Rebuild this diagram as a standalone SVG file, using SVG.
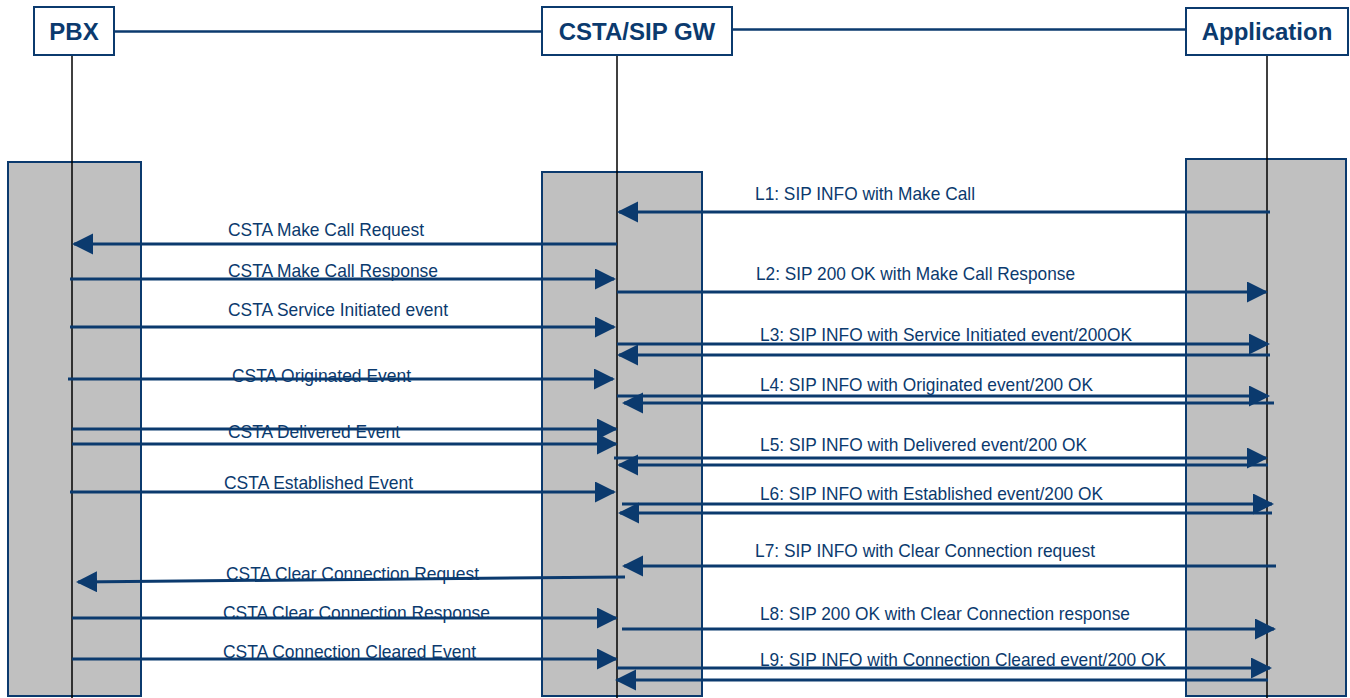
<svg xmlns="http://www.w3.org/2000/svg" width="1350" height="698" viewBox="0 0 1350 698">
<style>
.hdr{fill:#fff;stroke:#0b3a6e;stroke-width:2}
.htxt{font-family:"Liberation Sans",Arial,sans-serif;font-weight:bold;font-size:24px;fill:#0b3a6e;text-anchor:middle}
.act{fill:#c0c0c0;stroke:#0b3a6e;stroke-width:2}
.life{stroke:#000;stroke-width:1.5;fill:none}
.top{stroke:#0b3a6e;stroke-width:2.5;fill:none}
.msg{stroke:#0b3a6e;stroke-width:3;fill:none;marker-end:url(#ah)}
.lbl{font-family:"Liberation Sans",Arial,sans-serif;font-size:18.5px;fill:#0b3a6e}
</style>
<defs>
<marker id="ah" markerUnits="userSpaceOnUse" markerWidth="22" markerHeight="22" refX="19" refY="10.5" orient="auto">
<path d="M0,0 L21,10.5 L0,21 z" fill="#0b3a6e"/>
</marker>
</defs>
<rect width="1350" height="698" fill="#fff"/>
<g id="activations">
<rect class="act" x="8" y="162" width="133" height="534"/>
<rect class="act" x="542" y="172" width="160" height="524"/>
<rect class="act" x="1186" y="159" width="160" height="537"/>
</g>
<g id="lifelines">
<line class="life" x1="72" y1="56" x2="72" y2="698"/>
<line class="life" x1="617" y1="56" x2="617" y2="698"/>
<line class="life" x1="1267" y1="54" x2="1267" y2="698"/>
<line class="top" x1="114" y1="31.5" x2="542" y2="31.5"/>
<line class="top" x1="732" y1="29.5" x2="1186" y2="29.5"/>
</g>
<g id="node-pbx">
<rect class="hdr" x="34" y="7" width="80" height="48"/>
<text class="htxt" x="74" y="39.5">PBX</text>
</g>
<g id="node-gw">
<rect class="hdr" x="542" y="7" width="190" height="48"/>
<text class="htxt" x="637" y="39.5">CSTA/SIP GW</text>
</g>
<g id="node-app">
<rect class="hdr" x="1186" y="8" width="162" height="47"/>
<text class="htxt" x="1267" y="39.5">Application</text>
</g>
<g id="connectors">
<line class="msg" x1="1270" y1="212" x2="619" y2="212"/>
<line class="msg" x1="617" y1="244" x2="74" y2="244"/>
<line class="msg" x1="70" y1="279" x2="614" y2="279"/>
<line class="msg" x1="617" y1="292" x2="1266" y2="292"/>
<line class="msg" x1="70" y1="327" x2="614" y2="327"/>
<line class="msg" x1="617" y1="344" x2="1268" y2="344"/>
<line class="msg" x1="1270" y1="355" x2="619" y2="355"/>
<line class="msg" x1="68" y1="379" x2="613" y2="379"/>
<line class="msg" x1="617" y1="396" x2="1268" y2="396"/>
<line class="msg" x1="1274" y1="403" x2="624" y2="403"/>
<line class="msg" x1="72" y1="429" x2="616" y2="429"/>
<line class="msg" x1="72" y1="444" x2="616" y2="444"/>
<line class="msg" x1="614" y1="458" x2="1266" y2="458"/>
<line class="msg" x1="1268" y1="465" x2="619" y2="465"/>
<line class="msg" x1="70" y1="492" x2="614" y2="492"/>
<line class="msg" x1="622" y1="504" x2="1272" y2="504"/>
<line class="msg" x1="1272" y1="513" x2="620" y2="513"/>
<line class="msg" x1="1276" y1="566" x2="624" y2="566"/>
<line class="msg" x1="625" y1="577" x2="78" y2="582"/>
<line class="msg" x1="72" y1="618" x2="616" y2="618"/>
<line class="msg" x1="622" y1="629" x2="1274" y2="629"/>
<line class="msg" x1="72" y1="659" x2="616" y2="659"/>
<line class="msg" x1="617" y1="668" x2="1270" y2="668"/>
<line class="msg" x1="1268" y1="680" x2="617" y2="680"/>
</g>
<g id="labels">
<text class="lbl" x="755" y="200" textLength="220" lengthAdjust="spacingAndGlyphs">L1: SIP INFO with Make Call</text>
<text class="lbl" x="228" y="235.5" textLength="196" lengthAdjust="spacingAndGlyphs">CSTA Make Call Request</text>
<text class="lbl" x="228" y="277" textLength="210" lengthAdjust="spacingAndGlyphs">CSTA Make Call Response</text>
<text class="lbl" x="756" y="280" textLength="319" lengthAdjust="spacingAndGlyphs">L2: SIP 200 OK with Make Call Response</text>
<text class="lbl" x="228" y="316" textLength="220" lengthAdjust="spacingAndGlyphs">CSTA Service Initiated event</text>
<text class="lbl" x="760" y="341" textLength="372" lengthAdjust="spacingAndGlyphs">L3: SIP INFO with Service Initiated event/200OK</text>
<text class="lbl" x="232" y="382" textLength="179" lengthAdjust="spacingAndGlyphs">CSTA Originated Event</text>
<text class="lbl" x="760" y="391" textLength="333" lengthAdjust="spacingAndGlyphs">L4: SIP INFO with Originated event/200 OK</text>
<text class="lbl" x="228" y="438" textLength="172" lengthAdjust="spacingAndGlyphs">CSTA Delivered Event</text>
<text class="lbl" x="760" y="451" textLength="327" lengthAdjust="spacingAndGlyphs">L5: SIP INFO with Delivered event/200 OK</text>
<text class="lbl" x="224" y="489" textLength="189" lengthAdjust="spacingAndGlyphs">CSTA Established Event</text>
<text class="lbl" x="760" y="500" textLength="343" lengthAdjust="spacingAndGlyphs">L6: SIP INFO with Established event/200 OK</text>
<text class="lbl" x="755" y="557" textLength="340" lengthAdjust="spacingAndGlyphs">L7: SIP INFO with Clear Connection request</text>
<text class="lbl" x="226" y="580" textLength="253" lengthAdjust="spacingAndGlyphs">CSTA Clear Connection Request</text>
<text class="lbl" x="223" y="619" textLength="267" lengthAdjust="spacingAndGlyphs">CSTA Clear Connection Response</text>
<text class="lbl" x="760" y="620" textLength="370" lengthAdjust="spacingAndGlyphs">L8: SIP 200 OK with Clear Connection response</text>
<text class="lbl" x="223" y="658" textLength="253" lengthAdjust="spacingAndGlyphs">CSTA Connection Cleared Event</text>
<text class="lbl" x="760" y="666" textLength="406" lengthAdjust="spacingAndGlyphs">L9: SIP INFO with Connection Cleared event/200 OK</text>
</g>
</svg>
